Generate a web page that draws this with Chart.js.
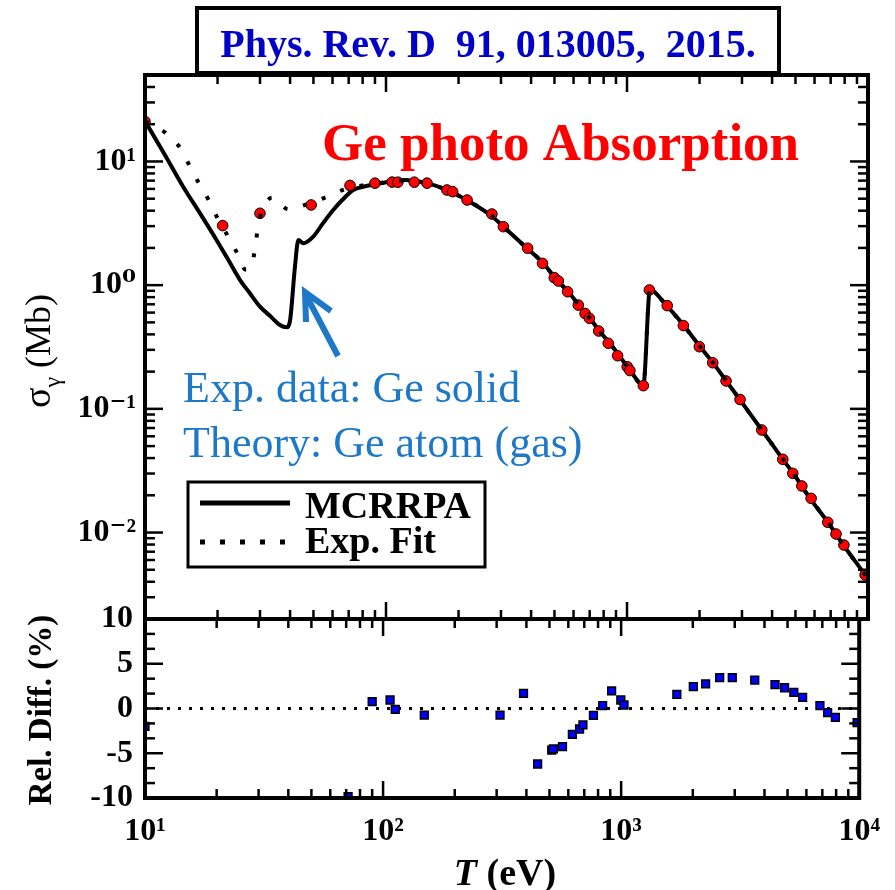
<!DOCTYPE html>
<html><head><meta charset="utf-8">
<script src="https://cdn.jsdelivr.net/npm/chart.js@4"></script>
<style>html,body{margin:0;padding:0;background:#fff;} canvas{position:absolute;left:0;top:0;}</style>
</head><body>
<canvas id="upper" width="895" height="890"></canvas>
<canvas id="lower" width="895" height="890"></canvas>
<script>
const SERIF = '"Liberation Serif", "Times New Roman", "DejaVu Serif", serif';

// ---- data ----
const mcrrpaT = [10, 12, 14.4, 17, 19.8, 22, 24.8, 27, 30, 33, 36.3, 38.7, 40.0, 41.9, 43.3, 45.4, 49.9, 55, 60.4, 66, 73.1, 82, 94.4, 108, 122, 130, 148, 179, 216, 271, 307, 384, 450, 511, 571, 638, 702, 772, 849, 935, 1028, 1169, 1245, 1462, 1714, 2010, 2282, 2594, 2945, 3624, 4457, 4900, 5745, 6840, 7900, 9730, 10000];
const mcrrpaSigma = [21.2, 11.6, 6.25, 3.75, 2.32, 1.64, 1.10, 0.88, 0.67, 0.565, 0.476, 0.456, 0.522, 1.41, 2.32, 2.18, 2.47, 3.2, 4.05, 4.9, 5.88, 6.3, 6.65, 6.95, 7.08, 6.95, 6.68, 5.88, 4.88, 3.69, 2.97, 1.99, 1.50, 1.10, 0.885, 0.67, 0.54, 0.42, 0.339, 0.264, 0.206, 0.156, 0.914, 0.68, 0.477, 0.318, 0.233, 0.166, 0.118, 0.0675, 0.0385, 0.030, 0.0189, 0.0120, 0.00793, 0.00454, 0.0042];

const fitT = [10, 12.1, 13.9, 15.2, 16.6, 18.3, 19.95, 22.0, 24.0, 26.2, 27.8, 28.7, 29.5, 30.5, 33.6, 39.3, 47, 55.8, 66.5, 80, 94.4, 108, 122, 130, 148, 179, 216, 271, 307, 384, 450, 511, 571, 638, 702, 772, 849, 935, 1028, 1169, 1245, 1462, 1714, 2010, 2282, 2594, 2945, 3624, 4457, 4900, 5745, 6840, 7900, 9730, 10000];
const fitSigma = [21.2, 17.2, 13.1, 9.5, 6.86, 4.94, 3.51, 2.52, 1.85, 1.33, 1.46, 2.08, 3.02, 3.9, 5.1, 4.11, 4.5, 5.1, 5.9, 6.4, 6.7, 6.9, 7.05, 6.95, 6.68, 5.88, 4.88, 3.72, 2.97, 1.99, 1.50, 1.10, 0.885, 0.67, 0.54, 0.42, 0.339, 0.264, 0.206, 0.155, 0.914, 0.68, 0.474, 0.318, 0.234, 0.167, 0.118, 0.0675, 0.0388, 0.0301, 0.0189, 0.0121, 0.00793, 0.00454, 0.0042];

const expT = [10, 21.0, 30.0, 48.9, 70.9, 90, 106, 112, 131, 148, 179, 189, 217, 275, 307, 387, 446, 499, 519, 567, 628, 670, 698, 763, 836, 914, 1002, 1028, 1169, 1238, 1469, 1714, 1996, 2268, 2577, 2945, 3624, 4429, 4873, 5314, 5808, 6808, 7367, 7943, 9730];
const expSigma = [21, 3.03, 3.81, 4.45, 6.4, 6.68, 6.81, 6.8, 6.8, 6.68, 5.88, 5.7, 4.88, 3.76, 2.97, 1.99, 1.50, 1.15, 1.08, 0.885, 0.69, 0.59, 0.54, 0.426, 0.339, 0.269, 0.219, 0.204, 0.154, 0.914, 0.683, 0.471, 0.318, 0.236, 0.168, 0.119, 0.0675, 0.0391, 0.0301, 0.0238, 0.0189, 0.0121, 0.00973, 0.00793, 0.00454];

const diffT = [10, 71.3, 90, 107, 112.5, 149, 310, 389, 446, 511, 519, 567, 624, 669, 691, 765, 836, 912, 997, 1028, 1714, 2010, 2264, 2594, 2930, 3641, 4429, 4857, 5314, 5785, 6840, 7367, 7943, 9800];
const diffPct = [-2.0, -9.85, 0.76, 0.95, -0.1, -0.73, -0.73, 1.70, -6.2, -4.64, -4.5, -4.27, -2.88, -2.29, -1.84, -0.76, 0.31, 1.96, 0.95, 0.39, 1.58, 2.44, 2.74, 3.44, 3.44, 3.18, 2.66, 2.32, 1.81, 1.25, 0.31, -0.47, -0.98, -1.58];

const zeroT = [10, 10000];
const zeroPct = [0, 0];

// ---- ticks and labels ----
const xTickValues = [10, 100, 1000, 10000];
const xTickLabels = ['10\u00B9', '10\u00B2', '10\u00B3', '10\u2074'];
const sigmaTickValues = [0.01, 0.1, 1, 10];
const sigmaTickLabels = ['10\u207B\u00B2', '10\u207B\u00B9', '10\u2070', '10\u00B9'];
const diffTickValues = [-10, -5, 0, 5, 10];
const diffTickLabels = ['-10', '-5', '0', '5', '10'];

const TITLE_TEXT = 'Phys. Rev. D  91, 013005,  2015.';
const HEADLINE = 'Ge photo Absorption';
const NOTE1 = 'Exp. data: Ge solid';
const NOTE2 = 'Theory: Ge atom (gas)';
const LEGEND1 = 'MCRRPA';
const LEGEND2 = 'Exp. Fit';

const pts = (xs, ys) => xs.map((x, i) => ({x: x, y: ys[i]}));

function logMinors(lo, hi) {
  const out = [];
  for (let d = lo; d < hi; d *= 10) for (let k = 2; k <= 9; k++) out.push(k * d);
  return out;
}
const xMinor = logMinors(10, 10000);
const sigmaMinor = logMinors(0.001, 100).filter(v => v > 0.002 && v < 50);
const diffMinor = [-25/3, -20/3, -10/3, -5/3, 5/3, 10/3, 20/3, 25/3];

// ---- frame with inward ticks, positions from the chart scales ----
const framePlugin = {
  id: 'frame',
  afterDatasetsDraw(chart, args, o) {
    const ctx = chart.ctx, a = chart.chartArea;
    const xs = chart.scales.x, ys = chart.scales.y;
    ctx.save();
    ctx.strokeStyle = '#000';
    ctx.lineWidth = 2.5;
    const seg = (x1, y1, x2, y2) => { ctx.beginPath(); ctx.moveTo(x1, y1); ctx.lineTo(x2, y2); ctx.stroke(); };
    const xt = (vals, L) => vals.forEach(v => { const p = xs.getPixelForValue(v); seg(p, a.bottom, p, a.bottom - L); seg(p, a.top, p, a.top + L); });
    const yt = (vals, L) => vals.forEach(v => { const p = ys.getPixelForValue(v); seg(a.left, p, a.left + L, p); seg(a.right, p, a.right - L, p); });
    xt(o.xMajor, 17); xt(o.xMinor, 9);
    yt(o.yMajor, 18); yt(o.yMinor, 10);
    ctx.lineWidth = 4;
    ctx.strokeRect(a.left, a.top, a.right - a.left, a.bottom - a.top);
    ctx.restore();
  }
};

// ---- text and drawing decorations ----
const upperDeco = {
  id: 'upperDeco',
  afterDraw(chart) {
    const ctx = chart.ctx;
    ctx.save();
    // reference box
    ctx.fillStyle = '#fff';
    ctx.fillRect(197, 8, 582, 65);
    ctx.lineWidth = 4; ctx.strokeStyle = '#000';
    ctx.strokeRect(197, 8, 582, 65);
    ctx.font = 'bold 40px ' + SERIF;
    ctx.fillStyle = '#0000c8'; ctx.textAlign = 'center'; ctx.textBaseline = 'alphabetic';
    ctx.fillText(TITLE_TEXT, 488, 57);
    // headline
    ctx.textAlign = 'left';
    ctx.font = 'bold 53px ' + SERIF;
    ctx.fillStyle = '#ff0000';
    ctx.fillText(HEADLINE, 322, 160);
    // notes
    ctx.font = '44px ' + SERIF;
    ctx.fillStyle = '#1e78c8';
    ctx.fillText(NOTE1, 183, 402);
    ctx.fillText(NOTE2, 183, 457);
    // arrow
    ctx.strokeStyle = '#1e78c8'; ctx.lineWidth = 6; ctx.lineJoin = 'miter'; ctx.lineCap = 'butt';
    ctx.beginPath(); ctx.moveTo(338, 356); ctx.lineTo(307, 297); ctx.stroke();
    ctx.beginPath(); ctx.moveTo(306, 322); ctx.lineTo(305, 292); ctx.lineTo(331, 311); ctx.stroke();
    // legend
    ctx.strokeStyle = '#000'; ctx.lineWidth = 3;
    ctx.strokeRect(188, 482, 297, 85);
    ctx.lineWidth = 5;
    ctx.beginPath(); ctx.moveTo(200, 503); ctx.lineTo(290, 503); ctx.stroke();
    ctx.setLineDash([5, 15]);
    ctx.beginPath(); ctx.moveTo(200, 542); ctx.lineTo(290, 542); ctx.stroke();
    ctx.setLineDash([]);
    ctx.fillStyle = '#000';
    ctx.font = 'bold 38px ' + SERIF;
    ctx.fillText(LEGEND1, 305, 518);
    ctx.fillText(LEGEND2, 305, 553);
    // y title: sigma_gamma (Mb)
    ctx.translate(50, 408);
    ctx.rotate(-Math.PI / 2);
    let u = 0;
    ctx.font = '38px ' + SERIF; ctx.fillText('\u03C3', u, 0); u += ctx.measureText('\u03C3').width;
    ctx.font = '24px ' + SERIF; ctx.fillText('\u03B3', u, 10); u += ctx.measureText('\u03B3').width + 9;
    ctx.font = '36px ' + SERIF; ctx.fillText('(Mb)', u, 0);
    ctx.restore();
  }
};

const lowerDeco = {
  id: 'lowerDeco',
  afterDraw(chart) {
    const ctx = chart.ctx;
    ctx.save();
    ctx.fillStyle = '#000';
    ctx.textBaseline = 'alphabetic';
    // x title: T (eV)
    ctx.font = 'italic bold 38px ' + SERIF;
    const wT = ctx.measureText('T').width;
    ctx.font = 'bold 38px ' + SERIF;
    const wR = ctx.measureText(' (eV)').width;
    const x0 = 505 - (wT + wR) / 2;
    ctx.font = 'italic bold 38px ' + SERIF; ctx.fillText('T', x0, 885);
    ctx.font = 'bold 38px ' + SERIF; ctx.fillText(' (eV)', x0 + wT, 885);
    // y title
    ctx.translate(51, 710);
    ctx.rotate(-Math.PI / 2);
    ctx.font = 'bold 33px ' + SERIF;
    ctx.textAlign = 'center';
    ctx.fillText('Rel. Diff. (%)', 0, 0);
    ctx.restore();
  }
};

const tickFont = {family: SERIF, size: 32, weight: 'bold'};

new Chart(document.getElementById('upper'), {
  type: 'line',
  data: {
    datasets: [
      {label: LEGEND2, data: pts(fitT, fitSigma), borderColor: '#000', borderWidth: 4, borderDash: [4, 16], pointRadius: 0, cubicInterpolationMode: 'monotone', fill: false},
      {label: NOTE1, data: pts(expT, expSigma), showLine: false, pointRadius: 5.3, pointBackgroundColor: '#ff0000', pointBorderColor: '#000', pointBorderWidth: 1},
      {label: LEGEND1, data: pts(mcrrpaT, mcrrpaSigma), borderColor: '#000', borderWidth: 4, pointRadius: 0, cubicInterpolationMode: 'monotone', fill: false}
    ]
  },
  options: {
    responsive: false, animation: false, devicePixelRatio: 1,
    layout: {padding: {left: 0, right: 27, top: 75, bottom: 271}},
    plugins: {
      legend: {display: false}, tooltip: {enabled: false},
      frame: {xMajor: xTickValues, xMinor: xMinor, yMajor: sigmaTickValues, yMinor: sigmaMinor}
    },
    scales: {
      x: {type: 'logarithmic', min: 10, max: 10000, display: false},
      y: {
        type: 'logarithmic', min: 0.002, max: 50,
        grid: {display: false, drawTicks: false}, border: {display: false},
        afterBuildTicks: s => { s.ticks = sigmaTickValues.map(v => ({value: v})); },
        afterFit: s => { s.width = 145; },
        ticks: {autoSkip: false, padding: 9, color: '#000', font: tickFont,
          callback: v => sigmaTickLabels[sigmaTickValues.indexOf(v)]}
      }
    }
  },
  plugins: [framePlugin, upperDeco]
});

new Chart(document.getElementById('lower'), {
  type: 'line',
  data: {
    datasets: [
      {label: 'Rel. Diff.', data: pts(diffT, diffPct), showLine: false, pointStyle: 'rect', pointRadius: 5.5, pointBackgroundColor: '#0000ff', pointBorderColor: '#000', pointBorderWidth: 1.5},
      {label: 'zero', data: pts(zeroT, zeroPct), borderColor: '#000', borderWidth: 3, borderDash: [3, 8], pointRadius: 0}
    ]
  },
  options: {
    responsive: false, animation: false, devicePixelRatio: 1,
    layout: {padding: {left: 0, right: 27, top: 619, bottom: 0}},
    plugins: {
      legend: {display: false}, tooltip: {enabled: false},
      frame: {xMajor: xTickValues, xMinor: xMinor, yMajor: diffTickValues, yMinor: diffMinor}
    },
    scales: {
      x: {
        type: 'logarithmic', min: 10, max: 10000,
        grid: {display: false, drawTicks: false}, border: {display: false},
        afterBuildTicks: s => { s.ticks = xTickValues.map(v => ({value: v})); },
        afterFit: s => { s.height = 92; },
        ticks: {autoSkip: false, maxRotation: 0, padding: 15, color: '#000', font: tickFont,
          callback: v => xTickLabels[xTickValues.indexOf(v)]}
      },
      y: {
        type: 'linear', min: -10, max: 10,
        grid: {display: false, drawTicks: false}, border: {display: false},
        afterBuildTicks: s => { s.ticks = diffTickValues.map(v => ({value: v})); },
        afterFit: s => { s.width = 145; },
        ticks: {autoSkip: false, padding: 12, color: '#000', font: tickFont,
          callback: v => diffTickLabels[diffTickValues.indexOf(v)]}
      }
    }
  },
  plugins: [framePlugin, lowerDeco]
});
</script>
</body></html>
